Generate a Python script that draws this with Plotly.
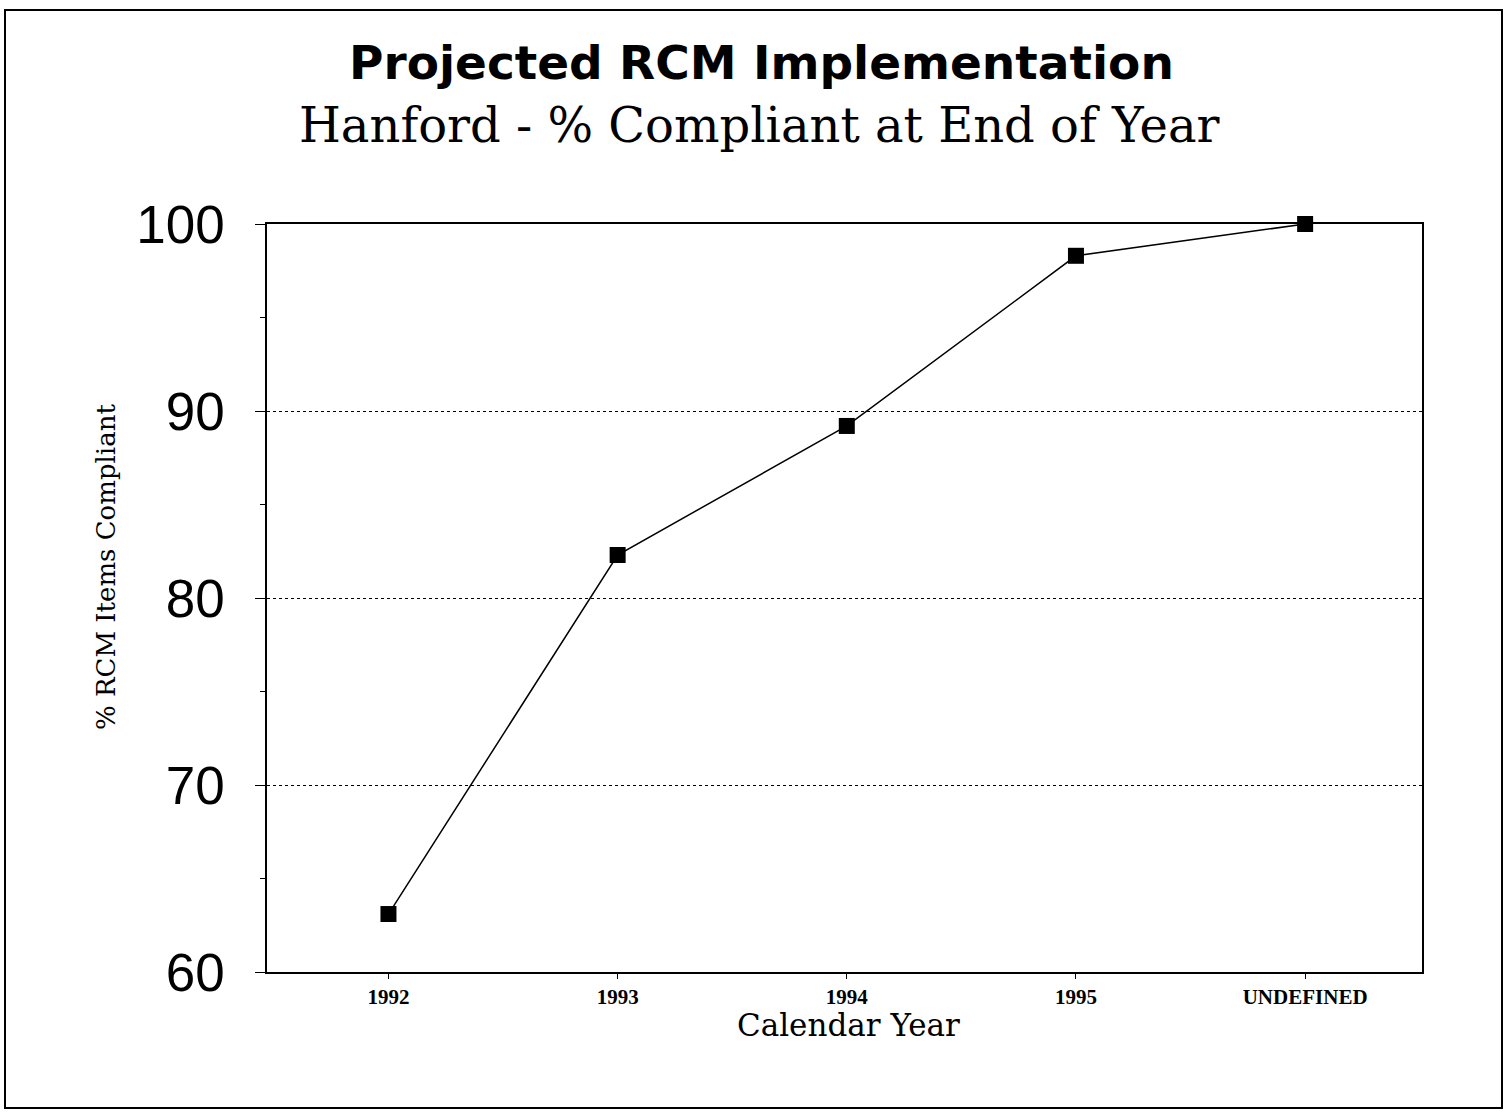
import plotly.graph_objects as go

categories = ["1992", "1993", "1994", "1995", "UNDEFINED"]
pct_compliant = [63.1, 82.3, 89.2, 98.3, 100.0]
y_ticks = [60, 70, 80, 90, 100]

W, H = 1504, 1114
L, R, T, B = 267, 82, 224, 142
pw, ph = W - L - R, H - T - B

def px(xp):
    return (xp - L) / pw

def py(yp):
    return (H - B - yp) / ph

xidx = list(range(len(categories)))

fig = go.Figure()
fig.add_trace(go.Scatter(
    x=xidx, y=pct_compliant, mode="lines+markers",
    line=dict(color="black", width=1.5),
    marker=dict(symbol="square", size=16, color="black"),
    cliponaxis=False,
    showlegend=False, hoverinfo="skip",
))

serif = "Liberation Serif, Times New Roman, serif"
wserif = "DejaVu Serif, serif"
sans = "Liberation Sans, Arial, sans-serif"
wsans = "DejaVu Sans, sans-serif"

fig.update_layout(
    width=W, height=H,
    margin=dict(l=L, r=R, t=T, b=B),
    paper_bgcolor="white", plot_bgcolor="white",
    xaxis=dict(
        range=[-0.53, 4.51], tickmode="array", tickvals=xidx, ticktext=categories,
        showgrid=False, zeroline=False,
        showline=True, linecolor="black", linewidth=1.5, mirror=True,
        ticks="outside", ticklen=5, tickcolor="black",
        tickfont=dict(family=serif, size=21, color="black", weight="bold"),
    ),
    yaxis=dict(
        range=[60, 100], tickmode="array", tickvals=y_ticks,
        showgrid=True, gridcolor="black", gridwidth=1, griddash="dot",
        zeroline=False,
        showline=True, linecolor="black", linewidth=1.5, mirror=True,
        ticks="outside", ticklen=10, tickcolor="black",
        ticklabelstandoff=20,
        minor=dict(dtick=5, tick0=60, ticks="outside", ticklen=5, tickcolor="black", showgrid=False),
        tickfont=dict(family=sans, size=53, color="black"),
    ),
    annotations=[
        dict(text="<b>Projected RCM Implementation</b>", x=px(761), y=py(62),
             xref="paper", yref="paper", showarrow=False,
             font=dict(family=wsans, size=47, color="black"), xanchor="center", yanchor="middle"),
        dict(text="Hanford - % Compliant at End of Year", x=px(759), y=py(125),
             xref="paper", yref="paper", showarrow=False,
             font=dict(family=wserif, size=48, color="black"), xanchor="center", yanchor="middle"),
        dict(text="Calendar Year", x=px(849), y=py(1025),
             xref="paper", yref="paper", showarrow=False,
             font=dict(family=wserif, size=31, color="black"), xanchor="center", yanchor="middle"),
        dict(text="% RCM Items Compliant", x=px(106), y=py(567), textangle=-90,
             xref="paper", yref="paper", showarrow=False,
             font=dict(family=wserif, size=26, color="black"), xanchor="center", yanchor="middle"),
    ],
    shapes=[
        dict(type="rect", xref="paper", yref="paper",
             x0=px(5), x1=px(1502), y0=py(1108), y1=py(10),
             line=dict(color="black", width=2), fillcolor="rgba(0,0,0,0)"),
    ],
)

fig.write_html("out.html", config={"displayModeBar": False},
               post_script="document.body.style.margin='0';")
